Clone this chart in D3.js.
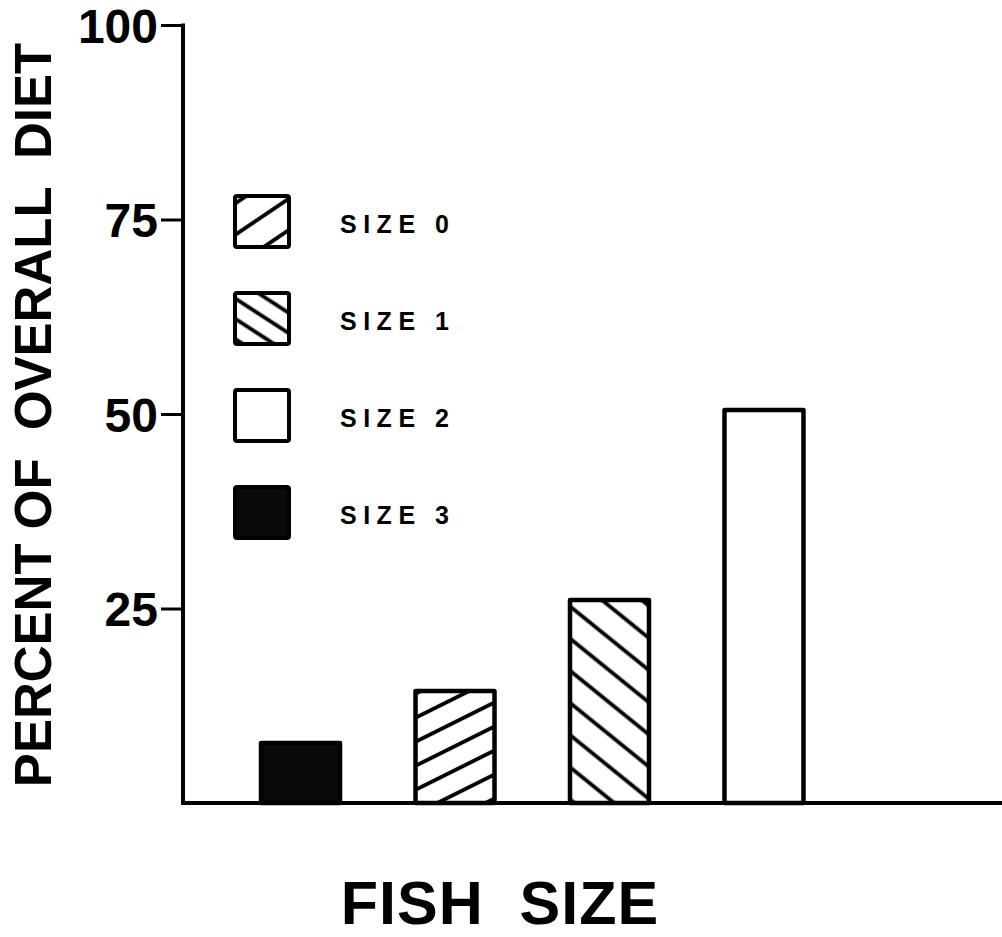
<!DOCTYPE html>
<html>
<head>
<meta charset="utf-8">
<script src="https://cdn.jsdelivr.net/npm/d3@7/dist/d3.min.js"></script>
<style>
  html, body { margin: 0; padding: 0; background: #fff; }
  svg { display: block; }
  text { font-family: "Liberation Sans", Arial, Helvetica, sans-serif; font-weight: bold; fill: #000; }
</style>
</head>
<body>
<svg id="chart" width="1002" height="937"></svg>
<script>
// ---- data ----
const categories = ["SIZE 3", "SIZE 0", "SIZE 1", "SIZE 2"];   // bar order left to right
const values = [7.7, 14.4, 26.1, 50.5];                          // percent of overall diet
const legendLabels = ["SIZE 0", "SIZE 1", "SIZE 2", "SIZE 3"];
const yTicks = [25, 50, 75, 100];
const yTitle = "PERCENT OF  OVERALL  DIET";
const xTitle = "FISH  SIZE";

// ---- styles per category ----
const fills = {
  "SIZE 0": "url(#hatchUp)",
  "SIZE 1": "url(#hatchDown)",
  "SIZE 2": "#fff",
  "SIZE 3": "#0a0a0a"
};
const legendFills = {
  "SIZE 0": "url(#lhatchUp)",
  "SIZE 1": "url(#lhatchDown)",
  "SIZE 2": "#fff",
  "SIZE 3": "#0a0a0a"
};

const svg = d3.select("#chart");
const defs = svg.append("defs");

function hatch(id, angle, spacing, sw) {
  const p = defs.append("pattern")
    .attr("id", id)
    .attr("patternUnits", "userSpaceOnUse")
    .attr("width", 20)
    .attr("height", spacing)
    .attr("patternTransform", `rotate(${angle})`);
  p.append("rect").attr("width", 20).attr("height", spacing).attr("fill", "#fff");
  p.append("line")
    .attr("x1", 0).attr("x2", 20)
    .attr("y1", spacing / 2).attr("y2", spacing / 2)
    .attr("stroke", "#000").attr("stroke-width", sw);
}
hatch("hatchUp", -26.5, 21.5, 3.8);
hatch("hatchDown", 39, 25, 3.8);
hatch("lhatchUp", -34, 26, 3.8);
hatch("lhatchDown", 33, 17, 3.8);

// ---- scales ----
const y = d3.scaleLinear().domain([0, 100]).range([803, 25]);
const x = d3.scaleBand().domain(categories)
  .range([183, 881.5]).paddingInner(0.4887).paddingOuter(0.505);

// ---- bars ----
svg.append("g").selectAll("rect")
  .data(categories.map((c, i) => ({ c, v: values[i] })))
  .join("rect")
  .attr("x", d => x(d.c))
  .attr("y", d => y(d.v))
  .attr("width", x.bandwidth())
  .attr("height", d => y(0) - y(d.v))
  .attr("fill", d => fills[d.c])
  .attr("stroke", "#000")
  .attr("stroke-width", 4.5)
  .attr("stroke-linejoin", "round");

// ---- axes ----
const yAxis = d3.axisLeft(y).tickValues(yTicks).tickSize(22).tickPadding(3).tickFormat(d3.format("d"));
const gy = svg.append("g").attr("transform", "translate(183,0)").call(yAxis);
gy.select(".domain").remove();
gy.selectAll(".tick line").attr("stroke", "#000").attr("stroke-width", 3);
gy.selectAll(".tick text")
  .attr("font-size", 48)
  .attr("font-family", "'Liberation Sans', Arial, sans-serif")
  .attr("font-weight", "bold")
  .attr("fill", "#000")
  .attr("dy", "0.36em");

// vertical axis line
svg.append("line")
  .attr("x1", 183).attr("x2", 183)
  .attr("y1", y(100) - 1.5).attr("y2", y(0) + 2)
  .attr("stroke", "#000").attr("stroke-width", 4);
// horizontal baseline
svg.append("line")
  .attr("x1", 181).attr("x2", 1002)
  .attr("y1", y(0)).attr("y2", y(0))
  .attr("stroke", "#000").attr("stroke-width", 4);

// ---- axis titles ----
svg.append("text")
  .attr("transform", `translate(51,${415}) rotate(-90)`)
  .attr("text-anchor", "middle")
  .attr("font-size", 51)
  .style("white-space", "pre")
  .attr("xml:space", "preserve")
  .text(yTitle);

svg.append("text")
  .attr("x", 500).attr("y", 924)
  .attr("text-anchor", "middle")
  .attr("font-size", 61)
  .attr("letter-spacing", 1)
  .style("white-space", "pre")
  .attr("xml:space", "preserve")
  .text(xTitle);

// ---- legend ----
const legY = d3.scalePoint().domain(legendLabels).range([221, 512]);
const lg = svg.append("g").selectAll("g").data(legendLabels).join("g")
  .attr("transform", d => `translate(0,${legY(d)})`);
lg.append("rect")
  .attr("x", 235).attr("y", -25)
  .attr("width", 54).attr("height", 51)
  .attr("rx", 2)
  .attr("fill", d => legendFills[d])
  .attr("stroke", "#000").attr("stroke-width", 4);
lg.append("text")
  .attr("x", 340).attr("y", 12)
  .attr("font-size", 25)
  .attr("letter-spacing", 6.5)
  .text(d => d);
</script>
</body>
</html>
